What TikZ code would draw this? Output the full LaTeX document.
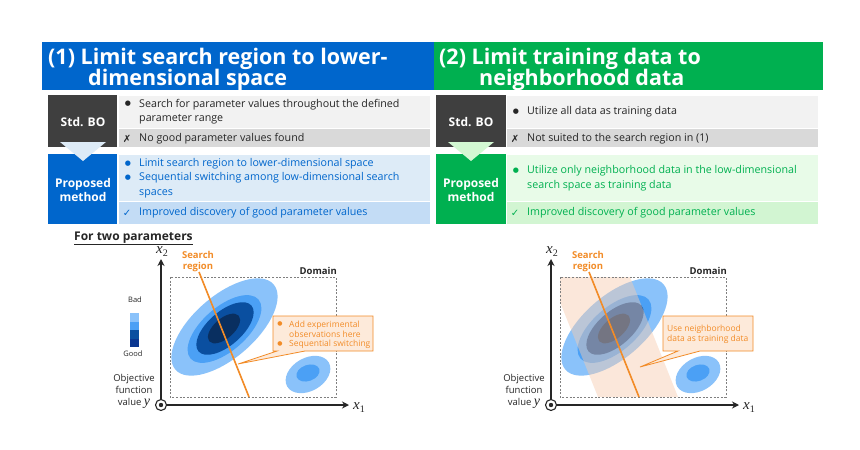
\documentclass[tikz,border=0pt]{standalone}
\usepackage{fontspec}
\setmainfont{Open Sans}
\newfontfamily\symf{DejaVu Sans}
\newfontfamily\mathf{Liberation Serif}
\usetikzlibrary{arrows.meta}
\definecolor{blueH}{HTML}{0066CC}
\definecolor{greenH}{HTML}{00B050}
\definecolor{darkbox}{HTML}{3F3F3F}
\definecolor{gray1}{HTML}{F2F2F2}
\definecolor{gray2}{HTML}{D9D9D9}
\definecolor{blueL1}{HTML}{DDEBF7}
\definecolor{blueL2}{HTML}{C3DCF5}
\definecolor{greenL1}{HTML}{E8FBE8}
\definecolor{greenL2}{HTML}{D2F5D2}
\definecolor{triG}{HTML}{D3F8D3}
\definecolor{txtdark}{HTML}{262626}
\definecolor{orangeC}{HTML}{F28C28}
\definecolor{peach}{HTML}{FDEADA}
\definecolor{bandC}{HTML}{F8CBAD}
\definecolor{ell1}{HTML}{8AC2FA}
\definecolor{ell2}{HTML}{4BA0F5}
\definecolor{ell3}{HTML}{0A4FA0}
\definecolor{ell4}{HTML}{092F60}
\definecolor{leg4}{HTML}{0A3690}
\definecolor{axisC}{HTML}{262626}
\definecolor{domC}{HTML}{7F7F7F}

\newcommand\myVar[2]{{\mathf\itshape\fontsize{15}{15}\selectfont #1}{\mathf\fontsize{10}{10}\selectfont\raisebox{-3pt}{#2}}}

\newcommand\myEllipses{%
  \fill[ell1, rotate around={41:(224.5,327)}] (224.5,327) ellipse [x radius=65pt, y radius=31pt];
  \fill[ell2, rotate around={41:(224.5,329)}] (224.5,329) ellipse [x radius=45pt, y radius=22pt];
  \fill[ell3, rotate around={41:(225,328.5)}] (225,328.5) ellipse [x radius=35pt, y radius=17pt];
  \fill[ell4, rotate around={41:(224,328.5)}] (224,328.5) ellipse [x radius=19.5pt, y radius=10pt];
  \fill[ell1, rotate around={30:(308,374.5)}] (308,374.5) ellipse [x radius=24pt, y radius=16.5pt];
  \fill[ell2, rotate around={20:(308,373)}] (308,373) ellipse [x radius=12pt, y radius=8pt];
}
\newcommand\myFrame{%
  \draw[domC, line width=0.9pt, dash pattern=on 2pt off 1.6pt] (170,277) rectangle (336,397);
  \node[lblsmall, anchor=east] (dom) at (337,271) {Domain};
  \node[srch] (sr) at (198,262) {Search\\region};
  \coordinate (lt) at (199,272);
  \coordinate (lb) at (249,397);
  \draw[orangeC, line width=1.6pt] (lt) -- (lb);
  \node[origin] (o) at (161,405) {};
  \fill[axisC] (o) circle (2.2pt);
  \coordinate (ytop) at (161,259);
  \coordinate (xend) at (349,405);
  \draw[axarrow] (o.north) -- (ytop);
  \draw[axarrow] (o.east) -- (xend);
  \node[inner sep=0, text=txtdark] (x2) at (162,252) {\myVar{x}{2}};
  \node[inner sep=0, text=txtdark] (x1) at (359,408) {\myVar{x}{1}};
  \node[objf] (obj) at (134,391) {Objective\\function\\value {\mathf\itshape\fontsize{14}{12}\selectfont y}};
}

\begin{document}
\begin{tikzpicture}[x=1pt,y=-1pt,
  hdr/.style={anchor=base west, inner sep=0, text=white, font=\fontsize{21.5}{24}\selectfont\bfseries},
  box/.style={anchor=north west, inner sep=0, draw=white, line width=0.6pt},
  lbl/.style={inner sep=0, font=\fontsize{12}{14}\selectfont\bfseries, text=white, align=center},
  txt/.style={anchor=west, inner sep=0, align=left, font=\fontsize{10.7}{14.5}\selectfont},
  bul/.style={inner sep=0, font=\symf\fontsize{7}{7}\selectfont},
  markc/.style={inner sep=0, font=\symf\fontsize{10}{12}\selectfont},
  lblsmall/.style={inner sep=0, font=\fontsize{9.5}{11}\selectfont\bfseries, text=axisC},
  srch/.style={inner sep=0, align=center, font=\fontsize{9.5}{11}\selectfont\bfseries, text=orangeC},
  origin/.style={circle, draw=axisC, line width=1.1pt, fill=white, minimum size=11pt, inner sep=0},
  axarrow/.style={axisC, line width=1.5pt, -{Stealth[length=7pt,width=7pt]}},
  objf/.style={inner sep=0, align=center, font=\fontsize{9.5}{12}\selectfont, text=txtdark},
  ctext/.style={inner sep=0, anchor=west, align=left, font=\fontsize{8.5}{10}\selectfont, text=orangeC},
  callout/.style={fill=peach, draw=orangeC, line width=0.8pt, line join=miter}
]
\useasboundingbox (0,0) rectangle (860,450);
\fill[white] (0,0) rectangle (860,450);

% ---------- headers ----------
\node[box, fill=blueH, draw=none, minimum width=392pt, minimum height=48pt] (h1) at (42,42) {};
\node[box, fill=greenH, draw=none, minimum width=389pt, minimum height=48pt] (h2) at (434,42) {};
\node[hdr] (t1a) at (48,64) {(1) Limit search region to lower-};
\node[hdr] (t1b) at (88,85) {dimensional space};
\node[hdr] (t2a) at (439,64) {(2) Limit training data to};
\node[hdr] (t2b) at (479,85) {neighborhood data};

% ---------- left table ----------
\node[box, fill=gray1, minimum width=312pt, minimum height=33pt] (la1) at (118,95) {};
\node[box, fill=gray2, minimum width=312pt, minimum height=19pt] (la2) at (118,128) {};
\node[box, fill=darkbox, draw=none, minimum width=69pt, minimum height=52pt] (lstd) at (48,95) {};
\node[box, fill=blueL1, minimum width=312pt, minimum height=47pt] (lb1) at (118,154) {};
\node[box, fill=blueL2, minimum width=312pt, minimum height=23pt] (lb2) at (118,201) {};
\node[box, fill=blueH, draw=none, minimum width=69pt, minimum height=70pt] (lprop) at (48,154) {};
\fill[blueL1] (60,142) -- (106,142) -- (83,161) -- cycle;
\node[lbl] at (83,122) {Std. BO};
\node[lbl] at (83,190) {Proposed\\method};

\node[bul, text=txtdark] at (128,104) {●};
\node[txt, text=txtdark] at (139,111.5) {Search for parameter values throughout the defined\\parameter range};
\node[markc, text=txtdark] at (127,139) {✗};
\node[txt, text=txtdark] at (139,139) {No good parameter values found};
\node[bul, text=blueH] at (128,164) {●};
\node[txt, text=blueH] at (139,164) {Limit search region to lower-dimensional space};
\node[bul, text=blueH] at (128,178) {●};
\node[txt, text=blueH] at (139,185) {Sequential switching among low-dimensional search\\spaces};
\node[markc, text=blueH] at (127,213) {✓};
\node[txt, text=blueH] at (139,213) {Improved discovery of good parameter values};

% ---------- right table ----------
\node[box, fill=gray1, minimum width=312pt, minimum height=33pt] (ra1) at (506,95) {};
\node[box, fill=gray2, minimum width=312pt, minimum height=19pt] (ra2) at (506,128) {};
\node[box, fill=darkbox, draw=none, minimum width=70pt, minimum height=52pt] (rstd) at (436,95) {};
\node[box, fill=greenL1, minimum width=312pt, minimum height=47pt] (rb1) at (506,154) {};
\node[box, fill=greenL2, minimum width=312pt, minimum height=23pt] (rb2) at (506,201) {};
\node[box, fill=greenH, draw=none, minimum width=70pt, minimum height=70pt] (rprop) at (436,154) {};
\fill[triG] (448,142) -- (494,142) -- (471,161) -- cycle;
\node[lbl] at (471,122) {Std. BO};
\node[lbl] at (471,190) {Proposed\\method};

\node[bul, text=txtdark] at (516,112) {●};
\node[txt, text=txtdark] at (527,112) {Utilize all data as training data};
\node[markc, text=txtdark] at (515,139) {✗};
\node[txt, text=txtdark] at (527,139) {Not suited to the search region in (1)};
\node[bul, text=greenH] at (516,171) {●};
\node[txt, text=greenH] at (527,178) {Utilize only neighborhood data in the low-dimensional\\search space as training data};
\node[markc, text=greenH] at (515,213) {✓};
\node[txt, text=greenH] at (527,213) {Improved discovery of good parameter values};

% ---------- bottom left ----------
\node[inner sep=0, anchor=base west, font=\fontsize{12}{13}\selectfont\bfseries, text=txtdark] (ftp) at (74,240) {\underline{For two parameters}};

\begin{scope}[name prefix=L-]
  \myEllipses
  \myFrame
\end{scope}

% legend
\node[inner sep=0, font=\fontsize{7.5}{9}\selectfont, text=txtdark] (bad) at (135,300) {Bad};
\node[inner sep=0, font=\fontsize{7.5}{9}\selectfont, text=txtdark] (good) at (133,354) {Good};
\fill[ell1] (130,313) rectangle (139,321.5);
\fill[ell2] (130,321.5) rectangle (139,330);
\fill[ell3] (130,330) rectangle (139,338.5);
\fill[leg4] (130,338.5) rectangle (139,347);

% left callout
\draw[callout] (273,316) -- (373,316) -- (373,351) -- (305,351) -- (238,364) -- (277,351) -- (273,351) -- cycle;
\node[bul, text=orangeC, font=\symf\fontsize{6}{6}\selectfont] at (280,324) {●};
\node[ctext] (c1) at (289,329) {Add experimental\\observations here};
\node[bul, text=orangeC, font=\symf\fontsize{6}{6}\selectfont] at (280,344) {●};
\node[ctext] (c2) at (289,344) {Sequential switching};

% ---------- bottom right ----------
\begin{scope}[xshift=390pt, name prefix=R-]
  \myEllipses
  \begin{scope}
    \clip (170,277) rectangle (336,397);
    \fill[bandC, opacity=0.45] (160,277) -- (240,277) -- (288,397) -- (208,397) -- cycle;
  \end{scope}
  \myFrame
\end{scope}

% right callout
\draw[callout] (663,316) -- (753,316) -- (753,351) -- (700,351) -- (640,367) -- (678,351) -- (663,351) -- cycle;
\node[ctext] (c3) at (667,334) {Use neighborhood\\data as training data};

\end{tikzpicture}
\end{document}
